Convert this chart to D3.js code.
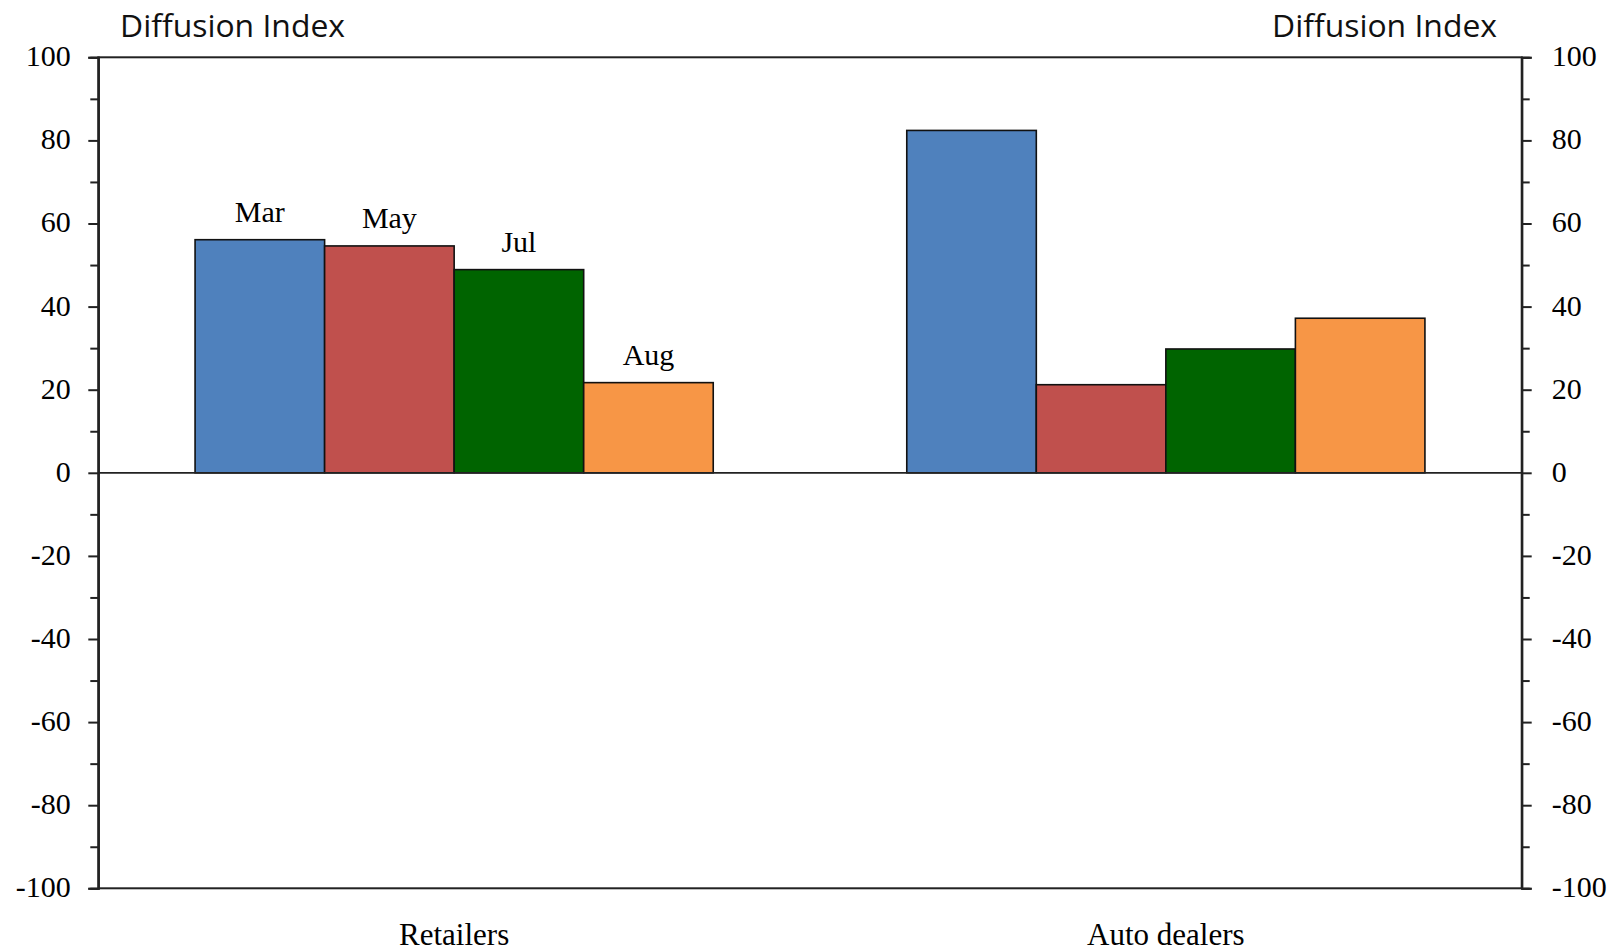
<!DOCTYPE html>
<html>
<head>
<meta charset="utf-8">
<script src="https://cdn.jsdelivr.net/npm/d3@7"></script>
<style>
  html, body { margin: 0; padding: 0; background: #fff; }
  svg { display: block; }
</style>
</head>
<body>
<svg id="chart" width="1616" height="951"></svg>
<script>
// ---- data ----
const categories = ["Retailers", "Auto dealers"];
const months = ["Mar", "May", "Jul", "Aug"];
const retailers = [56.1, 54.6, 48.9, 21.7];
const autoDealers = [82.4, 21.2, 29.8, 37.2];
const majorTicks = [-100, -80, -60, -40, -20, 0, 20, 40, 60, 80, 100];
const minorTicks = [-90, -70, -50, -30, -10, 10, 30, 50, 70, 90];
const colors = ["#4F81BD", "#C0504D", "#006400", "#F79646"];
const axisTitle = "Diffusion Index";

const seriesByCat = { "Retailers": retailers, "Auto dealers": autoDealers };

// ---- layout ----
const svg = d3.select("#chart");
const L = 98.3, R = 1521.7, T = 57.3, B = 888.3;

const y = d3.scaleLinear().domain([-100, 100]).range([B, T]);
const x0 = d3.scaleBand().domain(categories).range([L, R]).padding(0);
const x1 = d3.scaleBand().domain(months).range([0, x0.bandwidth()])
  .paddingInner(0).paddingOuter(0.747);

const serif = "'Liberation Serif', 'Times New Roman', serif";
const sans = "'Open Sans', Lato, 'Liberation Sans', sans-serif";
const fmt = d => String(d);

// bars
const groups = svg.append("g").selectAll("g")
  .data(categories).join("g")
  .attr("transform", d => `translate(${x0(d)},0)`);

groups.selectAll("rect")
  .data(c => seriesByCat[c].map((v, i) => ({ cat: c, month: months[i], v, i })))
  .join("rect")
  .attr("x", d => x1(d.month))
  .attr("width", x1.bandwidth())
  .attr("y", d => y(Math.max(0, d.v)))
  .attr("height", d => Math.abs(y(d.v) - y(0)))
  .attr("fill", d => colors[d.i])
  .attr("stroke", "#111")
  .attr("stroke-width", 1.6);

// month labels above retailers bars
svg.append("g").selectAll("text")
  .data(retailers.map((v, i) => ({ v, month: months[i] })))
  .join("text")
  .attr("x", d => x0("Retailers") + x1(d.month) + x1.bandwidth() / 2)
  .attr("y", d => y(d.v) - 18)
  .attr("text-anchor", "middle")
  .attr("font-family", serif)
  .attr("font-size", 30)
  .attr("fill", "#000")
  .text(d => d.month);

// frame
svg.append("rect")
  .attr("x", L).attr("y", T)
  .attr("width", R - L).attr("height", B - T)
  .attr("fill", "none")
  .attr("stroke", "#222")
  .attr("stroke-width", 2);

// zero line
svg.append("line")
  .attr("x1", L).attr("x2", R)
  .attr("y1", y(0)).attr("y2", y(0))
  .attr("stroke", "#222").attr("stroke-width", 1.8);

// axes
function styleAxis(g) {
  g.select(".domain").attr("stroke", "#222").attr("stroke-width", 2);
  g.selectAll(".tick line").attr("stroke", "#222").attr("stroke-width", 2);
  g.selectAll(".tick text")
    .attr("font-family", serif)
    .attr("font-size", 30)
    .attr("fill", "#000");
}

svg.append("g")
  .attr("transform", `translate(${L},0)`)
  .call(d3.axisLeft(y).tickValues(minorTicks).tickSize(8).tickFormat(""))
  .call(styleAxis);
svg.append("g")
  .attr("transform", `translate(${L},0)`)
  .call(d3.axisLeft(y).tickValues(majorTicks).tickSize(10).tickPadding(17.6).tickFormat(fmt))
  .call(styleAxis);

svg.append("g")
  .attr("transform", `translate(${R},0)`)
  .call(d3.axisRight(y).tickValues(minorTicks).tickSize(8).tickFormat(""))
  .call(styleAxis);
svg.append("g")
  .attr("transform", `translate(${R},0)`)
  .call(d3.axisRight(y).tickValues(majorTicks).tickSize(10).tickPadding(20).tickFormat(fmt))
  .call(styleAxis);

svg.selectAll(".tick text").attr("dy", "0.28em");

// category labels
svg.append("g").selectAll("text")
  .data(categories).join("text")
  .attr("x", d => x0(d) + x0.bandwidth() / 2)
  .attr("y", 945)
  .attr("text-anchor", "middle")
  .attr("font-family", serif)
  .attr("font-size", 31)
  .attr("fill", "#000")
  .text(d => d);

// axis titles
svg.append("text")
  .attr("x", 120).attr("y", 37)
  .attr("font-family", sans)
  .attr("font-size", 31)
  .attr("textLength", 225).attr("lengthAdjust", "spacingAndGlyphs")
  .attr("fill", "#111")
  .text(axisTitle);
svg.append("text")
  .attr("x", 1272).attr("y", 37)
  .attr("font-family", sans)
  .attr("font-size", 31)
  .attr("textLength", 225).attr("lengthAdjust", "spacingAndGlyphs")
  .attr("fill", "#111")
  .text(axisTitle);
</script>
</body>
</html>
